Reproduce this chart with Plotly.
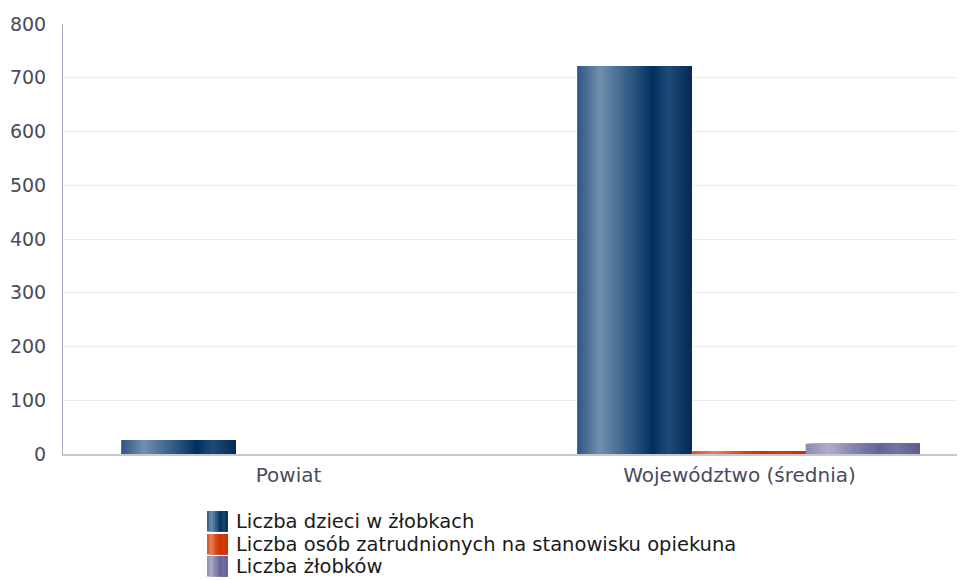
import plotly.graph_objects as go

categories = ["Powiat", "Województwo (średnia)"]
series_names = [
    "Liczba dzieci w żłobkach",
    "Liczba osób zatrudnionych na stanowisku opiekuna",
    "Liczba żłobków",
]
dzieci = [26, 722]
opiekunowie = [0, 5]
zlobki = [0, 19]
y_ticks = [0, 100, 200, 300, 400, 500, 600, 700, 800]

series_values = [dzieci, opiekunowie, zlobki]

# horizontal gradient stops per series (position across bar, colour)
gradients = [
    [(0.0, "#2c5683"), (0.2, "#7190ad"), (0.38, "#456a90"), (0.52, "#24507c"),
     (0.66, "#00305f"), (0.8, "#1f4b78"), (1.0, "#062a54")],
    [(0.0, "#d65028"), (0.2, "#e7825c"), (0.45, "#d6481a"), (0.65, "#cc3300"),
     (0.8, "#d23f10"), (1.0, "#c22f00")],
    [(0.0, "#8c8cb1"), (0.2, "#adadca"), (0.42, "#8686ae"), (0.65, "#64649a"),
     (0.8, "#7474a3"), (1.0, "#5e5e8e")],
]


def hex2rgb(h):
    h = h.lstrip("#")
    return tuple(int(h[i:i + 2], 16) for i in (0, 2, 4))


def grad_color(stops, t):
    for (p0, c0), (p1, c1) in zip(stops, stops[1:]):
        if p0 <= t <= p1:
            f = (t - p0) / (p1 - p0) if p1 > p0 else 0
            a, b = hex2rgb(c0), hex2rgb(c1)
            r = [round(a[i] + (b[i] - a[i]) * f) for i in range(3)]
            return "rgb(%d,%d,%d)" % tuple(r)
    return stops[-1][1]


fig = go.Figure()

N = 60
group_start = [-0.371, -0.360]  # per-category start of the bar group
bar_w = 0.2533
slice_w = bar_w / N

for s, (name, vals, stops) in enumerate(zip(series_names, series_values, gradients)):
    for k in range(N):
        t = (k + 0.5) / N
        offs = [g + s * bar_w + k * slice_w for g in group_start]
        fig.add_trace(go.Bar(
            x=categories,
            y=vals,
            name=name,
            showlegend=False,
            offset=offs,
            width=bar_w - k * slice_w,  # each slice reaches the bar's right edge
            marker=dict(color=grad_color(stops, t), line=dict(width=0)),
            hoverinfo="x+y+name" if k == N // 2 else "skip",
        ))

# page body has an 8px default margin: compensate so plot lands where the reference has it
PAGE = 8
W, H = 965, 580
PLOT_L, PLOT_R, PLOT_T, PLOT_B = 63, 965, 24, 454
pw, ph = PLOT_R - PLOT_L, PLOT_B - PLOT_T


def px_x(px):
    return (px - PLOT_L) / pw


def px_y(py):
    return (PLOT_B - py) / ph


# ---- custom legend (swatches + labels) below the plot ----
shapes = []
annotations = []
sw_left, sw_size, text_left = 207, 20.5, 235
row_tops = [511, 534, 556]
strips = 10
for name, stops, top in zip(series_names, gradients, row_tops):
    for j in range(strips):
        t = (j + 0.5) / strips
        x0 = sw_left + j * sw_size / strips
        shapes.append(dict(
            type="rect", xref="paper", yref="paper",
            x0=px_x(x0), x1=px_x(sw_left + sw_size),
            y0=px_y(top), y1=px_y(top + sw_size),
            fillcolor=grad_color(stops, t), line=dict(width=0), layer="above",
        ))
    annotations.append(dict(
        text=name, xref="paper", yref="paper",
        x=px_x(text_left - 1), y=px_y(top + sw_size / 2),
        xanchor="left", yanchor="middle", showarrow=False,
        font=dict(family="DejaVu Sans", size=19.5, color="#1a1a1a"),
    ))

fig.update_layout(
    width=W - PAGE,
    height=H - PAGE,
    margin=dict(l=PLOT_L - PAGE, r=W - PLOT_R, t=PLOT_T - PAGE, b=H - PLOT_B),
    paper_bgcolor="white",
    plot_bgcolor="white",
    barmode="overlay",
    font=dict(family="DejaVu Sans", size=18, color="#4a4a5e"),
    showlegend=False,
    shapes=shapes,
    annotations=annotations,
    xaxis=dict(
        type="category",
        range=[-0.5, 1.5],
        showgrid=False,
        showline=True,
        linecolor="#c6c6d6",
        linewidth=2,
        ticks="",
        tickfont=dict(size=20, color="#4a4a5e"),
        ticklabelstandoff=2,
        zeroline=False,
        automargin=False,
    ),
    yaxis=dict(
        range=[0, 800],
        tickvals=y_ticks,
        ticktext=[str(v) for v in y_ticks],
        showgrid=True,
        gridcolor="#ebebf1",
        gridwidth=1,
        showline=True,
        linecolor="#a8a8c4",
        linewidth=1,
        zeroline=False,
        ticks="",
        tickfont=dict(size=19, color="#4a4a5e"),
        ticklabelstandoff=12,
        automargin=False,
    ),
)

fig.write_html("out.html")
